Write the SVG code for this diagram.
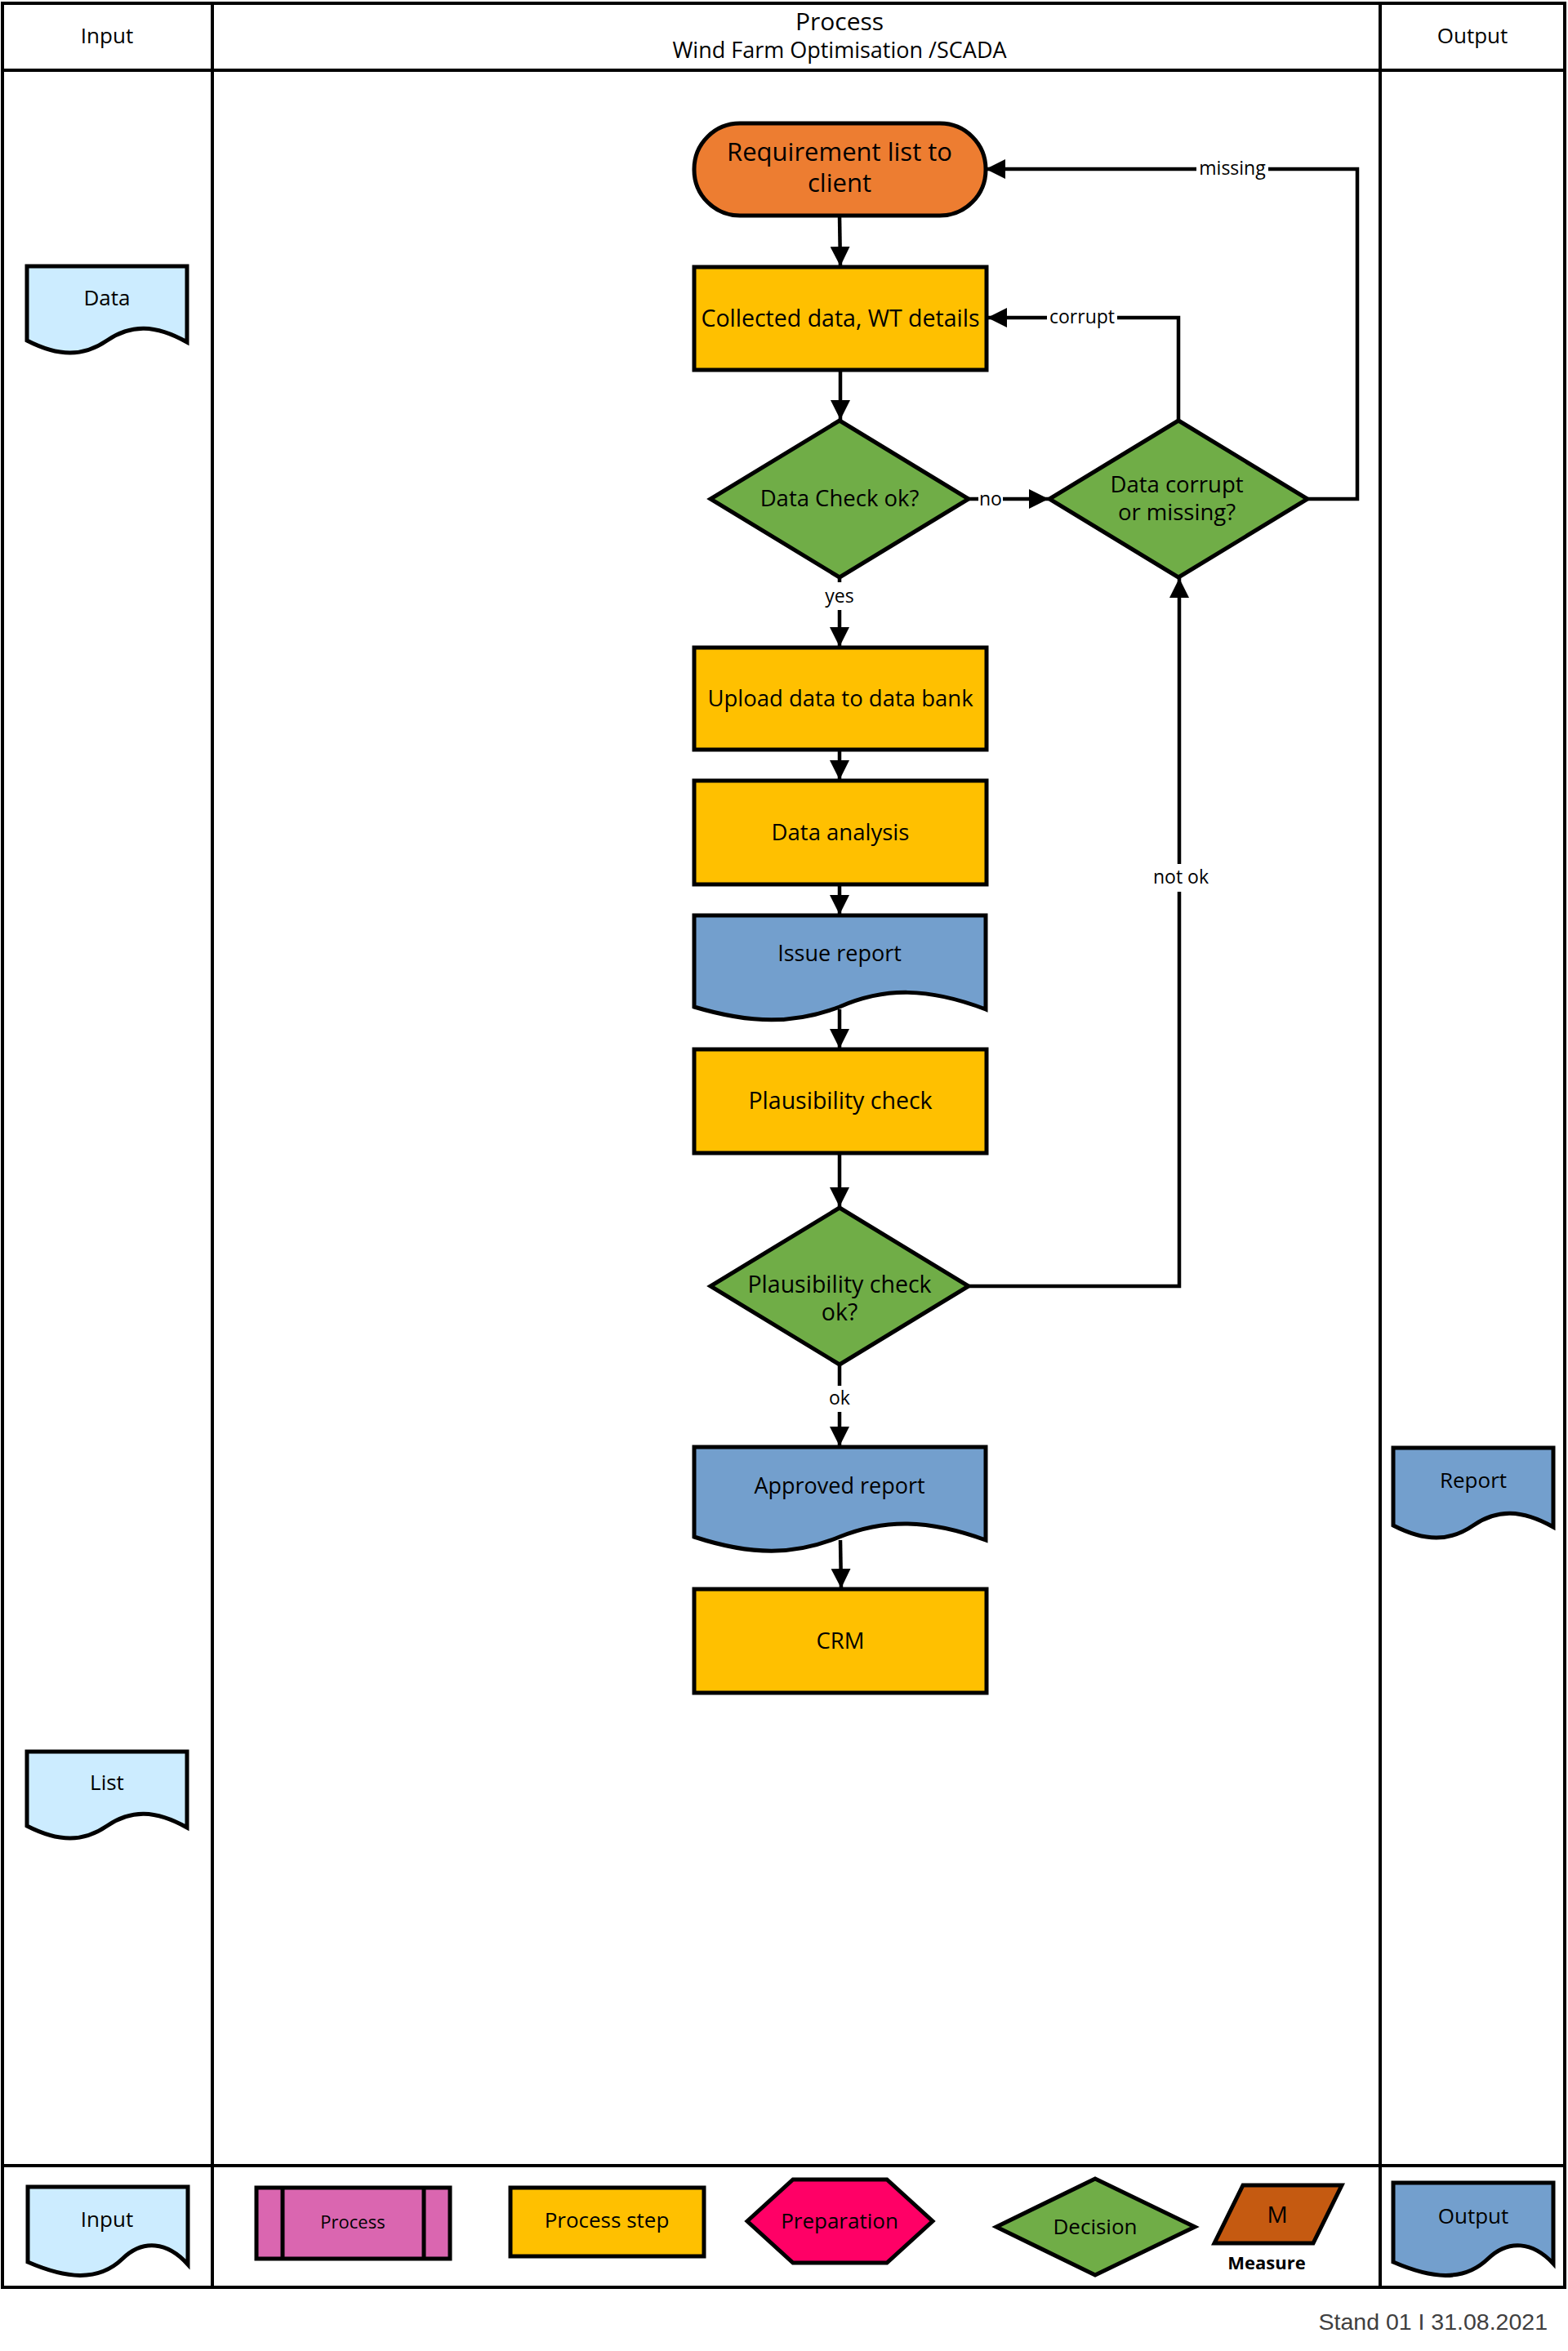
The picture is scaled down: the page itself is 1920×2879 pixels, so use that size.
<svg xmlns="http://www.w3.org/2000/svg" width="1920" height="2879" viewBox="0 0 1920 2879">
<style>
text{font-family:"Open Sans","Liberation Sans",sans-serif;fill:#000;text-anchor:middle}
.frame{fill:none;stroke:#000;stroke-width:4}
.n{stroke:#000;stroke-width:5;stroke-linejoin:miter}
.t26{font-size:26px}
.t27{font-size:27.5px}
.t28{font-size:31px}
.lbl{font-size:23px}
.c{fill:none;stroke:#000;stroke-width:4.5}
.bg{fill:#fff}
.yel{fill:#FFC000}
.grn{fill:#70AD47}
.blu{fill:#739FCD}
.lb{fill:#CCECFF}
</style>
<defs>
<marker id="ah" markerUnits="userSpaceOnUse" markerWidth="26" markerHeight="26" viewBox="0 0 26 26" refX="24" refY="13" orient="auto">
<path d="M0,1 L24,13 L0,25 Z" fill="#000"/>
</marker>
</defs>
<rect width="1920" height="2879" fill="#fff"/>
<g id="frame">
<rect class="frame" x="3" y="4" width="1913" height="2797" stroke-width="5"/>
<line class="frame" x1="3" y1="86" x2="1916" y2="86"/>
<line class="frame" x1="3" y1="2652" x2="1916" y2="2652"/>
<line class="frame" x1="260" y1="4" x2="260" y2="2801"/>
<line class="frame" x1="1690" y1="4" x2="1690" y2="2801"/>
<text x="131" y="53" class="t26">Input</text>
<text x="1028" y="37" style="font-size:30px">Process</text>
<text x="1028" y="71" style="font-size:27px">Wind Farm Optimisation /SCADA</text>
<text x="1803" y="53" class="t26">Output</text>
</g>
<g id="connectors">
<line class="c" x1="1028" y1="264" x2="1029" y2="326" marker-end="url(#ah)"/>
<line class="c" x1="1029" y1="453" x2="1029" y2="514" marker-end="url(#ah)"/>
<line class="c" x1="1186" y1="611" x2="1284" y2="611" marker-end="url(#ah)"/>
<line class="c" x1="1028" y1="707" x2="1028" y2="792" marker-end="url(#ah)"/>
<line class="c" x1="1028" y1="918" x2="1028" y2="955" marker-end="url(#ah)"/>
<line class="c" x1="1028" y1="1083" x2="1028" y2="1120" marker-end="url(#ah)"/>
<line class="c" x1="1028" y1="1236" x2="1028" y2="1284" marker-end="url(#ah)"/>
<line class="c" x1="1028" y1="1412" x2="1028" y2="1478" marker-end="url(#ah)"/>
<line class="c" x1="1028" y1="1671" x2="1028" y2="1771" marker-end="url(#ah)"/>
<line class="c" x1="1029" y1="1886" x2="1030" y2="1945" marker-end="url(#ah)"/>
<polyline class="c" points="1186,1575 1444,1575 1444,708" marker-end="url(#ah)"/>
<polyline class="c" points="1443,515 1443,389 1209,389" marker-end="url(#ah)"/>
<polyline class="c" points="1601,611 1662,611 1662,207 1207,207" marker-end="url(#ah)"/>
<rect class="bg" x="1198" y="596" width="30" height="30"/>
<text x="1213" y="619" class="lbl">no</text>
<rect class="bg" x="1008" y="713" width="40" height="34"/>
<text x="1028" y="738" class="lbl">yes</text>
<rect class="bg" x="1018" y="1697" width="22" height="32"/>
<text x="1028" y="1720" class="lbl">ok</text>
<rect class="bg" x="1410" y="1058" width="70" height="34"/>
<text x="1446" y="1082" class="lbl">not ok</text>
<rect class="bg" x="1282" y="374" width="86" height="30"/>
<text x="1325" y="396" class="lbl">corrupt</text>
<rect class="bg" x="1465" y="192" width="88" height="30"/>
<text x="1509" y="214" class="lbl">missing</text>
</g>
<g id="n-requirement">
<rect class="n" x="850" y="151" width="357" height="113" rx="56" fill="#ED7D31"/>
<text x="1028" y="197" class="t28">Requirement list to</text>
<text x="1028" y="235" class="t28">client</text>
</g>
<g id="n-collected">
<rect class="n yel" x="850" y="327" width="358" height="126"/>
<text x="1029" y="400" style="font-size:28.5px">Collected data, WT details</text>
</g>
<g id="n-datacheck">
<polygon class="n grn" points="1028,515 1186,611 1028,707 870,611"/>
<text x="1028" y="620" class="t27">Data Check ok?</text>
</g>
<g id="n-corrupt">
<polygon class="n grn" points="1443,515 1601,611 1443,707 1285,611"/>
<text x="1441" y="603" class="t27">Data corrupt</text>
<text x="1441" y="637" class="t27">or missing?</text>
</g>
<g id="n-upload">
<rect class="n yel" x="850" y="793" width="358" height="125"/>
<text x="1029" y="865" class="t27">Upload data to data bank</text>
</g>
<g id="n-analysis">
<rect class="n yel" x="850" y="956" width="358" height="127"/>
<text x="1029" y="1029" class="t27">Data analysis</text>
</g>
<g id="n-issue">
<path class="n blu" d="M850,1121 H1207 V1236 C1136,1209 1083,1209 1028,1233 C973,1254 920,1254 850,1233 Z"/>
<text x="1028" y="1177" style="font-size:27px">Issue report</text>
</g>
<g id="n-plaus">
<rect class="n yel" x="850" y="1285" width="358" height="127"/>
<text x="1029" y="1358" style="font-size:28.5px">Plausibility check</text>
</g>
<g id="n-plausok">
<polygon class="n grn" points="1028,1479 1186,1575 1028,1671 870,1575"/>
<text x="1028" y="1583" style="font-size:28.5px">Plausibility check</text>
<text x="1028" y="1617" style="font-size:28.5px">ok?</text>
</g>
<g id="n-approved">
<path class="n blu" d="M850,1772 H1207 V1886 C1136,1860 1083,1860 1028,1882 C973,1905 920,1905 850,1882 Z"/>
<text x="1028" y="1829" style="font-size:27px">Approved report</text>
</g>
<g id="n-crm">
<rect class="n yel" x="850" y="1946" width="358" height="127"/>
<text x="1029" y="2019" class="t27">CRM</text>
</g>
<g id="n-data">
<path class="n lb" d="M33,326 H229 V419 C190,397 160,397 131,417 C102,437 72,437 33,417 Z"/>
<text x="131" y="374" class="t26">Data</text>
</g>
<g id="n-list">
<path class="n lb" d="M33,2145 H229 V2238 C190,2216 160,2216 131,2236 C102,2256 72,2256 33,2236 Z"/>
<text x="131" y="2192" class="t26">List</text>
</g>
<g id="n-report">
<path class="n blu" d="M1706,1773 H1902 V1870 C1863,1848 1833,1848 1804,1868 C1775,1888 1745,1888 1706,1868 Z"/>
<text x="1804" y="1822" class="t26">Report</text>
</g>
<g id="legend">
<g id="lg-input">
<path class="n lb" d="M34,2678 H230 V2773 C205,2745 175,2742 150,2766 C120,2795 80,2790 34,2770 Z"/>
<text x="131" y="2727" class="t26">Input</text>
</g>
<g id="lg-process">
<rect class="n" x="314" y="2679" width="237" height="87" fill="#DA66B0"/>
<line class="n" x1="346" y1="2679" x2="346" y2="2766"/>
<line class="n" x1="519" y1="2679" x2="519" y2="2766"/>
<text x="432" y="2729" style="font-size:22px">Process</text>
</g>
<g id="lg-step">
<rect class="n yel" x="625" y="2679" width="237" height="84"/>
<text x="743" y="2728" class="t26">Process step</text>
</g>
<g id="lg-prep">
<polygon class="n" points="915,2720 971,2669 1086,2669 1142,2720 1086,2771 971,2771" fill="#FF0066"/>
<text x="1028" y="2729" class="t26">Preparation</text>
</g>
<g id="lg-decision">
<polygon class="n grn" points="1220,2727 1341,2668 1463,2727 1341,2786"/>
<text x="1341" y="2736" class="t26">Decision</text>
</g>
<g id="lg-measure">
<polygon class="n" points="1522,2676 1643,2676 1608,2747 1487,2747" fill="#C55A11"/>
<text x="1564" y="2722" style="font-size:28px">M</text>
<text x="1551" y="2779" style="font-size:22px;font-weight:bold">Measure</text>
</g>
<g id="lg-output">
<path class="n blu" d="M1706,2673 H1902 V2772 C1877,2745 1847,2742 1822,2766 C1792,2795 1752,2790 1706,2770 Z"/>
<text x="1804" y="2723" class="t26">Output</text>
</g>
</g>
<text x="1895" y="2853" style="font-size:28.5px;fill:#404040;text-anchor:end;font-family:'Liberation Sans Narrow','Liberation Sans',sans-serif">Stand 01 I 31.08.2021</text>
</svg>
